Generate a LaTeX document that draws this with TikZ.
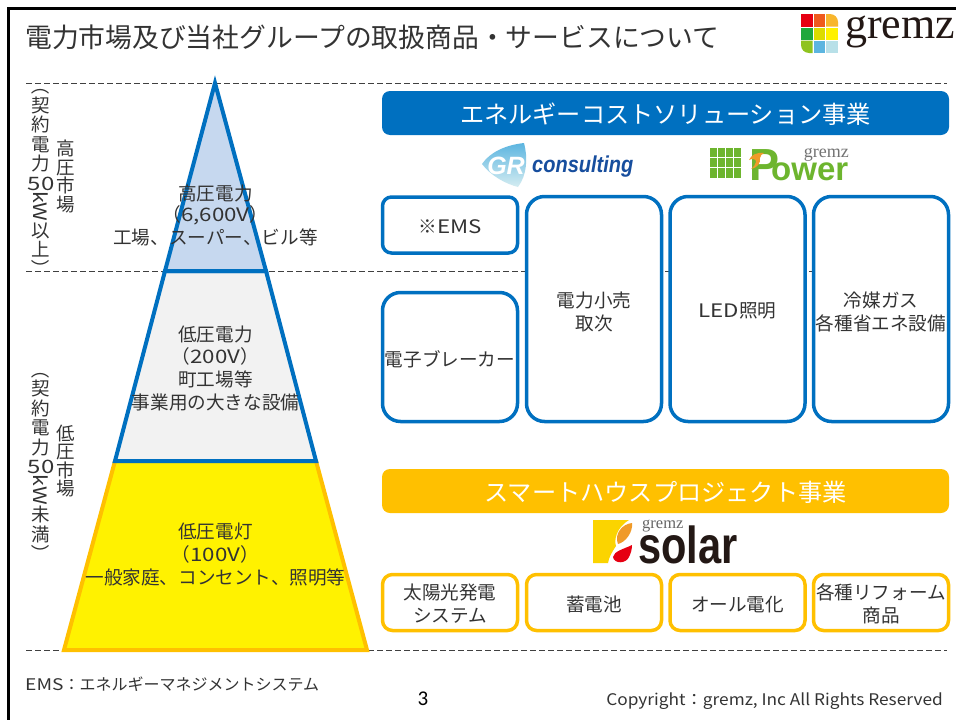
\documentclass[tikz,border=0pt]{standalone}
\usepackage{fontspec}
\setmainfont{Noto Sans CJK JP}
\newfontfamily\serifl{Liberation Serif}
\newfontfamily\sansl{Liberation Sans}
\newfontfamily\carl{Carlito}
\definecolor{blu}{HTML}{0070C0}
\definecolor{org}{HTML}{FFC000}
\definecolor{ink}{HTML}{333333}
\definecolor{grn}{HTML}{6DB52E}
\definecolor{topfill}{HTML}{C6D8EF}
\definecolor{navy}{HTML}{174E9E}
\definecolor{ca}{HTML}{E60012}
\definecolor{cb}{HTML}{EF5A1E}
\definecolor{cc}{HTML}{F8B62D}
\definecolor{cd}{HTML}{1FA83C}
\definecolor{ce}{HTML}{DCDC00}
\definecolor{cf}{HTML}{FFF100}
\definecolor{cg}{HTML}{8FC31F}
\definecolor{ch}{HTML}{5CB5E0}
\definecolor{ci}{HTML}{B8E0E8}
\definecolor{logoink}{HTML}{231815}
\definecolor{sunorg}{HTML}{F09A28}
\definecolor{sunyel}{HTML}{FBD400}
\newcommand{\fs}[1]{\fontsize{#1}{#1}\selectfont}
\newcommand{\rp}[1]{\rotatebox[origin=c]{-90}{#1}}
\newcommand{\wl}[1]{\scalebox{1.2}[1]{#1}}
\newcommand{\dn}[2]{\raisebox{-#1pt}[\height][\depth]{#2}}
\tikzset{
  x=1pt,y=-1pt,
  txt/.style={text=ink,inner sep=0pt,align=center,font=\fontsize{18.6}{23}\selectfont},
  bar/.style={rounded corners=8pt,text=white,inner sep=0pt,font=\fs{24.2}},
  bluebox/.style={draw=blu,fill=white,line width=3.5pt,txt},
  orgbox/.style={draw=org,fill=white,line width=3.5pt,txt},
  guide/.style={draw=black!75,line width=1pt,dash pattern=on 5.5pt off 3.5pt},
  vert/.style={text=ink,inner sep=0pt,align=center,font=\fontsize{18.5}{19.4}\selectfont},
  vertb/.style={text=ink,inner sep=0pt,align=center,font=\fontsize{18.5}{18.4}\selectfont},
  level/.style={line width=4pt,line join=miter},
}
\begin{document}
\begin{tikzpicture}
\useasboundingbox (0,0) rectangle (956,720);
\fill[white] (0,0) rectangle (956,720);
% frame
\coordinate (ftr) at (956,8.5);
\coordinate (ftl) at (8.5,8.5);
\coordinate (fbl) at (8.5,720);
\draw[black,line width=2.6pt] (ftr) -- (ftl) -- (fbl);
% guides
\coordinate (g1l) at (26,83); \coordinate (g1r) at (947,83);
\coordinate (g2l) at (26,271); \coordinate (g2r) at (947,271);
\coordinate (g3l) at (26,650); \coordinate (g3r) at (947,650);
\draw[guide] (g1l) -- (g1r);
\draw[guide] (g2l) -- (g2r);
\draw[guide] (g3l) -- (g3r);
% title
\node[anchor=west,text=ink,inner sep=0pt,font=\fs{26.8}] (title) at (25,37) {電力市場及び当社グループの取扱商品・サービスについて};
% gremz logo
\fill[ca] (801,14) rectangle (812.5,26.5);
\fill[cb] (813.5,14) rectangle (825,26.5);
\fill[cc] (826,14) [rounded corners=8pt] -- (838,14) [sharp corners] -- (838,26.5) -- (826,26.5) -- cycle;
\fill[cd] (801,27.5) rectangle (812.5,39.5);
\fill[ce] (813.5,27.5) rectangle (825,39.5);
\fill[cf] (826,27.5) rectangle (838,39.5);
\fill[cg] (801,40.5) [rounded corners=8pt] -- (801,53) [sharp corners] -- (812.5,53) -- (812.5,40.5) -- cycle;
\fill[ch] (813.5,40.5) rectangle (825,53);
\fill[ci] (826,40.5) rectangle (838,53);
\node[anchor=base west,inner sep=0pt,text=logoink,font={\serifl\fs{44}}] (gremzlogo) at (845,38) {gremz};
% pyramid
\draw[level,draw=org,fill=yellow] (115,461) -- (64,650) -- (367,650) -- (316,461) -- cycle;
\draw[level,draw=blu,fill=black!5] (165,271) -- (115,461) -- (316,461) -- (266,271) -- cycle;
\draw[level,draw=blu,fill=topfill] (215,83) -- (165,271) -- (266,271) -- cycle;
\node[txt] (p1a) at (215.5,193) {高圧電力};
\node[txt] (p1b) at (215.5,215) {（\wl{6,600V}）};
\node[txt] (p1c) at (215.5,237.5) {工場、スーパー、ビル等};
\node[txt] (p2a) at (215.5,334) {低圧電力};
\node[txt] (p2b) at (215.5,356) {（\wl{200V}）};
\node[txt] (p2c) at (215.5,379) {町工場等};
\node[txt] (p2d) at (215.5,402) {事業用の大きな設備};
\node[txt] (p3a) at (215.5,531) {低圧電灯};
\node[txt] (p3b) at (215.5,554) {（\wl{100V}）};
\node[txt] (p3c) at (215.5,577) {一般家庭、コンセント、照明等};
% vertical labels
\node[vert] (vh1) at (41,177.5) {\rp{（}\\契\\約\\電\\力\\\scalebox{1.3}[1]{50}\\\rp{\scalebox{1.15}[1]{kW}}\\以\\上\\\rp{）}};
\node[vertb] (vh2) at (66,176.5) {高\\圧\\市\\場};
\node[vert] (vl1) at (41,461.5) {\rp{（}\\契\\約\\電\\力\\\scalebox{1.3}[1]{50}\\\rp{\scalebox{1.15}[1]{kW}}\\未\\満\\\rp{）}};
\node[vertb] (vl2) at (66,461) {低\\圧\\市\\場};
% blue section
\node[bar,fill=blu,minimum width=567pt,minimum height=44pt] (hdrb) at (665.5,113) {\dn{1.5}{エネルギーコストソリューション事業}};
% GR consulting
\shade[top color=ch,bottom color=ci!60] (482,164) .. controls (490,152) and (506,145) .. (524,143) .. controls (528,158) and (527,175) .. (518,187) .. controls (506,184) and (491,176) .. (482,164) -- cycle;
\node[text=white,inner sep=0pt,font={\sansl\bfseries\itshape\fs{25}}] (grlogo) at (506,166) {GR};
\node[anchor=base west,inner sep=0pt,text=navy,xscale=.87,font={\sansl\bfseries\itshape\fs{23}}] (conslogo) at (532,172) {consulting};
% Power logo
\foreach \i in {0,1,2,3}\foreach \j in {0,1,2}
  \fill[grn] ({710+\i*7.9},{148+\j*10.1}) rectangle ++(7.1,9.3);
\node[anchor=base west,inner sep=0pt,text=grn,font={\sansl\bfseries\fs{45}}] (plogo) at (749,180) {P};
\node[anchor=base west,inner sep=0pt,text=grn,font={\sansl\bfseries\fs{33}}] (owerlogo) at (771,180) {ower};
\fill[sunorg] (764,153) .. controls (757,152) and (751,155) .. (749,160) .. controls (753,158) and (756,159) .. (756,162) .. controls (756,165) and (753,167) .. (751,169) .. controls (757,168) and (761,163) .. (760,158) .. controls (760,156) and (762,154) .. (764,153) -- cycle;
\node[anchor=base east,inner sep=0pt,text=black!55,font={\serifl\fs{18}}] (pgremz) at (849,157) {gremz};
% blue boxes
\node[bluebox,rounded corners=9pt,minimum width=135pt,minimum height=56pt] (ems) at (450,225) {\dn{2}{※\wl{EMS}}};
\node[bluebox,rounded corners=18pt,minimum width=135pt,minimum height=225pt] (kouri) at (594,309) {\dn{2.5}{電力小売}\\\dn{2.5}{取次}};
\node[bluebox,rounded corners=18pt,minimum width=135pt,minimum height=225pt] (led) at (737.5,309) {\dn{2}{\wl{LED}照明}};
\node[bluebox,rounded corners=18pt,minimum width=135pt,minimum height=225pt] (gas) at (881,309) {\dn{2.5}{冷媒ガス}\\\dn{2.5}{各種省エネ設備}};
\node[bluebox,rounded corners=18pt,minimum width=135pt,minimum height=129pt] (breaker) at (450,357) {\dn{2}{電子ブレーカー}};
% orange section
\node[bar,fill=org,minimum width=567pt,minimum height=44pt] (hdro) at (665.5,491) {\dn{1.5}{スマートハウスプロジェクト事業}};
% solar logo
\fill[sunyel] (593,520) -- (629,520) .. controls (616,528) and (614,540) .. (616,546) .. controls (612,552) and (609,557) .. (608,563) -- (593,563) -- cycle;
\fill[sunorg] (632,523) .. controls (622,524) and (614,534) .. (618,544) .. controls (626,542) and (633,532) .. (632,523) -- cycle;
\fill[ca] (632,545) .. controls (624,549) and (614,551) .. (613,557) .. controls (614,564) and (626,564) .. (629,557) .. controls (631,553) and (632,549) .. (632,545) -- cycle;
\node[anchor=base west,inner sep=0pt,text=logoink,xscale=.8,font={\sansl\bfseries\fs{52}}] (solarlogo) at (638,563) {solar};
\node[anchor=base west,inner sep=0pt,text=black!60,font={\serifl\fs{16.5}}] (sgremz) at (642,528) {gremz};
% orange boxes
\node[orgbox,rounded corners=10pt,minimum width=135pt,minimum height=56pt] (pv) at (450,602.5) {\dn{1}{太陽光発電}\\\dn{1}{システム}};
\node[orgbox,rounded corners=10pt,minimum width=135pt,minimum height=56pt] (bat) at (594,602.5) {\dn{2}{蓄電池}};
\node[orgbox,rounded corners=10pt,minimum width=135pt,minimum height=56pt] (den) at (737.5,602.5) {\dn{2}{オール電化}};
\node[orgbox,rounded corners=10pt,minimum width=135pt,minimum height=56pt] (ref) at (881,602.5) {\dn{1}{各種リフォーム}\\\dn{1}{商品}};
% footer
\node[anchor=west,txt,font=\fs{16}] (note) at (25,684) {\wl{EMS}：エネルギーマネジメントシステム};
\node[inner sep=0pt,text=black,font={\carl\fs{21}}] (pageno) at (423,699) {3};
\node[anchor=east,txt,font=\fs{16}] (copy) at (943,701) {\scalebox{1.08}[1]{Copyright：gremz, Inc All Rights Reserved}};
\end{tikzpicture}
\end{document}
